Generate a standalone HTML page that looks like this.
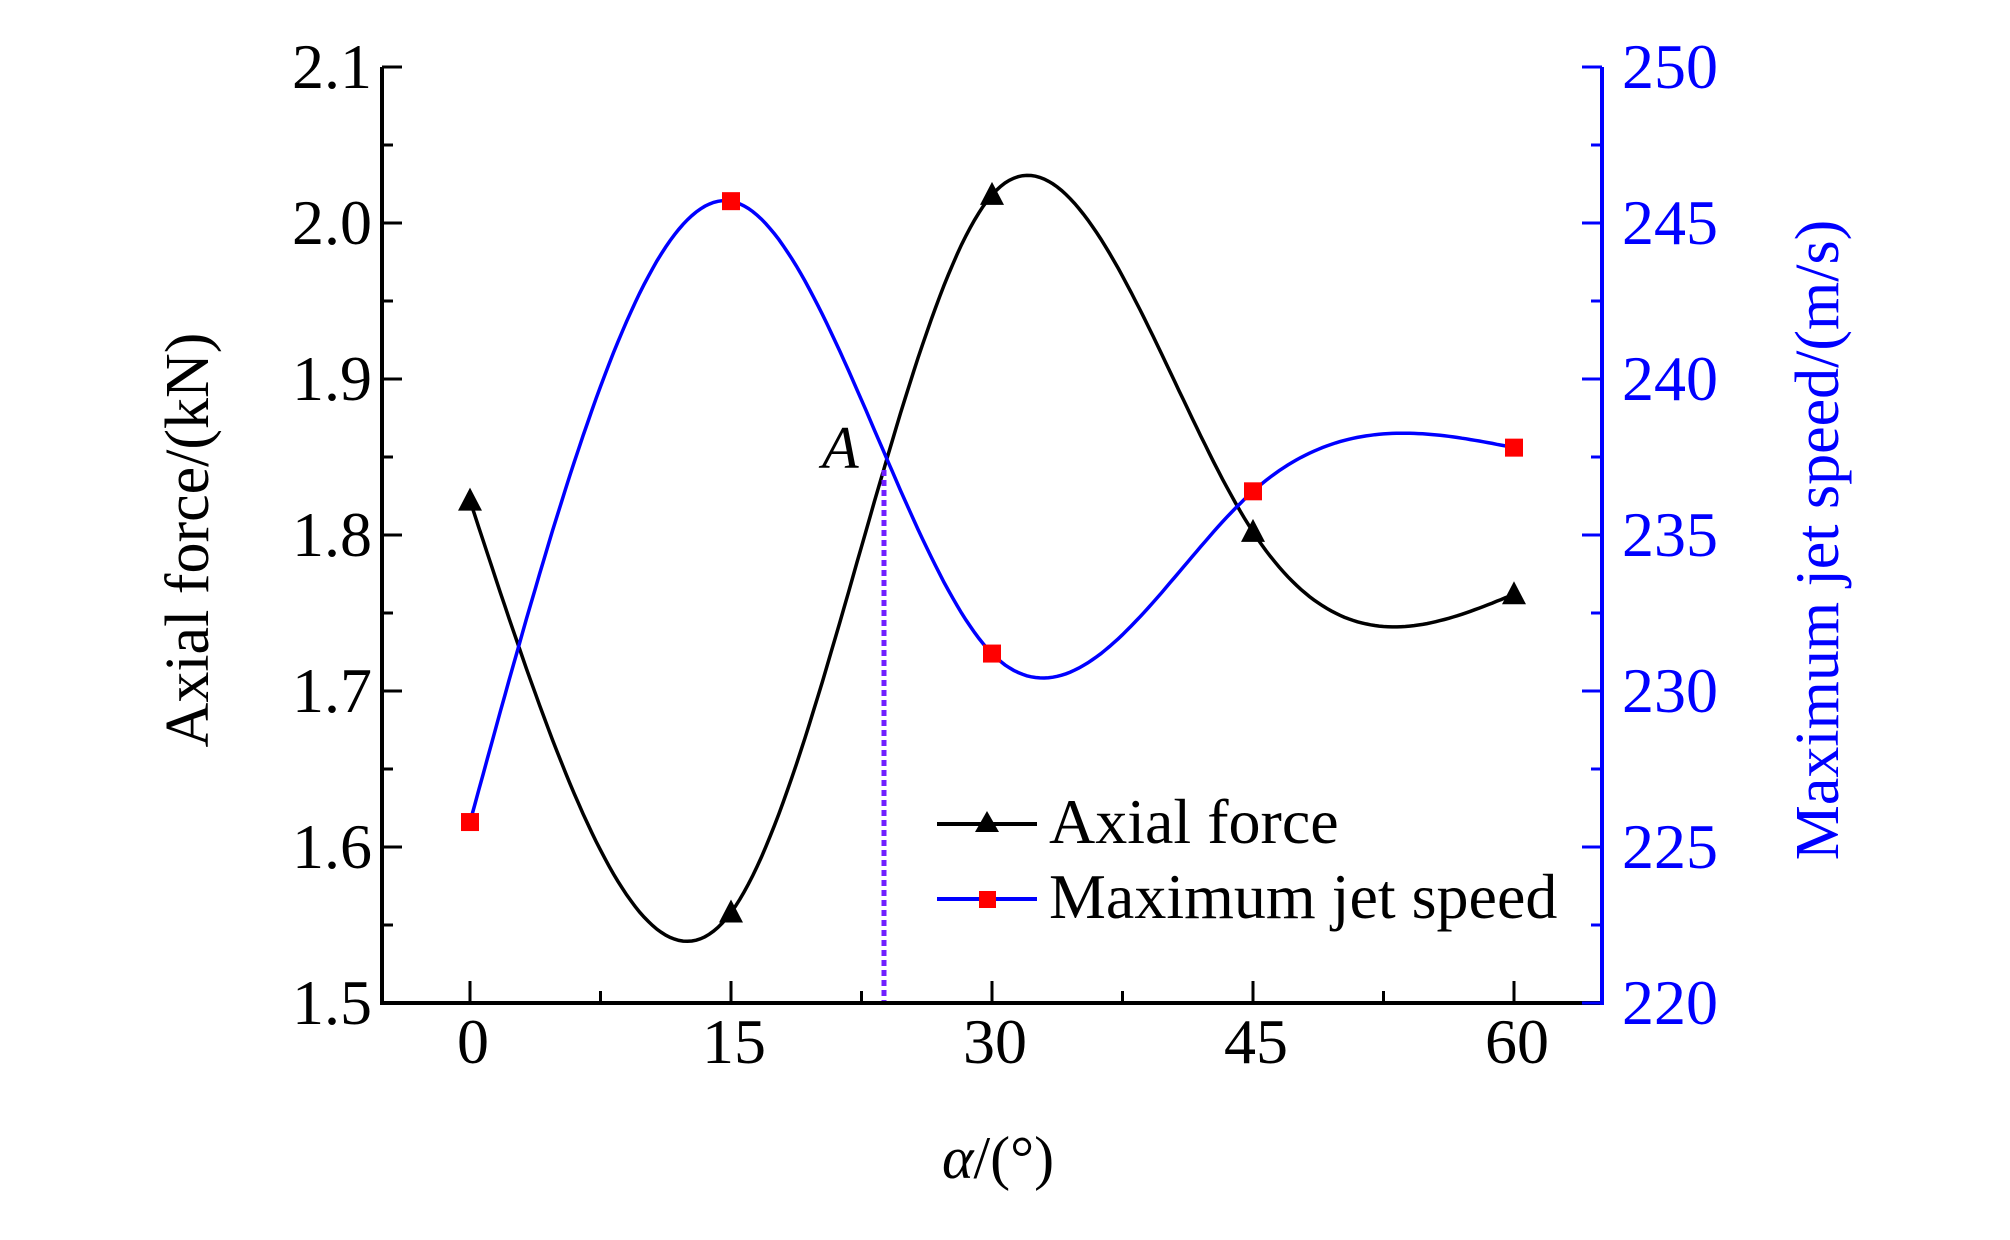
<!DOCTYPE html>
<html><head><meta charset="utf-8"><style>
html,body{margin:0;padding:0;background:#fff;}
svg, svg text{font-family:"Liberation Serif","Noto Serif CJK SC","DejaVu Serif",serif;}
</style></head><body>
<svg id="chart" width="2010" height="1235" viewBox="0 0 2010 1235">
<g id="axes"></g><g id="series"></g>
<text x="822" y="468" font-size="60" font-style="italic">A</text>
<line x1="884" y1="470" x2="884" y2="1001" stroke="#7020ff" stroke-width="5" stroke-dasharray="6,4"/>
<g>
  <line x1="937" y1="824" x2="1037" y2="824" stroke="#000" stroke-width="4"/>
  <polygon points="987,811 999,832 975,832" fill="#000"/>
  <text x="1049" y="843" font-size="64">Axial force</text>
  <line x1="937" y1="899" x2="1037" y2="899" stroke="#0000ff" stroke-width="4"/>
  <rect x="979" y="891" width="17" height="17" fill="#ff0000"/>
  <text x="1049" y="918" font-size="64">Maximum jet speed</text>
</g>
<text transform="translate(208,540) rotate(-90)" text-anchor="middle" font-size="62">Axial force/(kN)</text>
<text transform="translate(1838,540) rotate(-90)" text-anchor="middle" font-size="62" fill="#0000ff">Maximum jet speed/(m/s)</text>
<text x="998" y="1178" text-anchor="middle" font-size="60"><tspan font-style="italic">α</tspan>/(°)</text>
</svg>
<script>
const xCats=[0,15,30,45,60];
const axialForce=[1.822,1.558,2.018,1.802,1.762];
const jetSpeed=[225.8,245.7,231.2,236.4,237.8];
const xTicks=[0,15,30,45,60];
const leftTicks=["1.5","1.6","1.7","1.8","1.9","2.0","2.1"];
const rightTicks=["220","225","230","235","240","245","250"];

const NS="http://www.w3.org/2000/svg";
const L=382,R=1602,T=67,B=1003;
const X=v=>470+(v-0)*(1514-470)/60;
const YL=v=>B-(v-1.5)*(B-T)/0.6;
const YR=v=>B-(v-220)*(B-T)/30;
const axes=document.getElementById('axes'), ser=document.getElementById('series');
function mk(tag,at,parent){const e=document.createElementNS(NS,tag);for(const k in at)e.setAttribute(k,at[k]);parent.appendChild(e);return e;}

let e;
e=mk('line',{x1:L,y1:T,x2:L,y2:B,stroke:'#000','stroke-width':4},axes);


e=mk('line',{x1:L-2,y1:B,x2:R,y2:B,stroke:'#000','stroke-width':4},axes);


e=mk('line',{x1:R,y1:T,x2:R,y2:B+2,stroke:'#0000ff','stroke-width':4},axes);



for(let i=0;i<leftTicks.length;i++){
  const v=parseFloat(leftTicks[i]);const y=YL(v);
  e=mk('line',{x1:L,y1:y,x2:L+20,y2:y,stroke:'#000','stroke-width':3},axes);
  
  
  e=mk('text',{x:L-10,y:y+21,'text-anchor':'end','font-size':64},axes);e.textContent=leftTicks[i];
  
  
  if(i<leftTicks.length-1){const ym=YL(v+0.05);
    e=mk('line',{x1:L,y1:ym,x2:L+11,y2:ym,stroke:'#000','stroke-width':3},axes);
    
    }
}
for(let i=0;i<rightTicks.length;i++){
  const v=parseFloat(rightTicks[i]);const y=YR(v);
  e=mk('line',{x1:R,y1:y,x2:R-20,y2:y,stroke:'#0000ff','stroke-width':3},axes);
  
  
  e=mk('text',{x:R+20,y:y+21,'font-size':64,fill:'#0000ff'},axes);e.textContent=rightTicks[i];
  
  
  if(i<rightTicks.length-1){const ym=YR(v+2.5);
    e=mk('line',{x1:R,y1:ym,x2:R-11,y2:ym,stroke:'#0000ff','stroke-width':3},axes);
    
    }
}
for(let i=0;i<xTicks.length;i++){
  const x=X(xTicks[i]);
  e=mk('line',{x1:x,y1:B,x2:x,y2:B-22,stroke:'#000','stroke-width':3},axes);
  
  
  e=mk('text',{x:x+3,y:B+60,'text-anchor':'middle','font-size':64},axes);e.textContent=xTicks[i];
  
  
  if(i<xTicks.length-1){const xm=X(xTicks[i]+7.5);
    e=mk('line',{x1:xm,y1:B,x2:xm,y2:B-12,stroke:'#000','stroke-width':3},axes);
    
    }
}

function spline(xs,ys){
  const n=xs.length,h=[],a=[],l=[1],mu=[0],z=[0],c=new Array(n).fill(0),b=[],d=[];
  for(let i=0;i<n-1;i++)h[i]=xs[i+1]-xs[i];
  for(let i=1;i<n-1;i++)a[i]=3/h[i]*(ys[i+1]-ys[i])-3/h[i-1]*(ys[i]-ys[i-1]);
  for(let i=1;i<n-1;i++){l[i]=2*(xs[i+1]-xs[i-1])-h[i-1]*mu[i-1];mu[i]=h[i]/l[i];z[i]=(a[i]-h[i-1]*z[i-1])/l[i];}
  for(let j=n-2;j>=0;j--){c[j]=z[j]-mu[j]*c[j+1];b[j]=(ys[j+1]-ys[j])/h[j]-h[j]*(c[j+1]+2*c[j])/3;d[j]=(c[j+1]-c[j])/(3*h[j]);}
  return t=>{let j=xs.findIndex((v,k)=>k<n-1&&t<=xs[k+1]);if(j<0)j=n-2;const dx=t-xs[j];return ys[j]+b[j]*dx+c[j]*dx*dx+d[j]*dx*dx*dx;};
}
function curve(ys,Y,color,name){
  const f=spline(xCats,ys);let p='';
  for(let t=xCats[0];t<=xCats[xCats.length-1]+1e-9;t+=0.25){p+=(p?'L':'M')+X(t).toFixed(1)+','+Y(f(t)).toFixed(1);}
  const e=mk('path',{d:p,fill:'none',stroke:color,'stroke-width':3.5},ser);
  
  
}
curve(axialForce,YL,'#000','axial-force-line');
curve(jetSpeed,YR,'#0000ff','jet-speed-line');
for(let i=0;i<xCats.length;i++){
  const x=X(xCats[i]),y=YL(axialForce[i]);
  let m=mk('polygon',{points:`${x},${y-13} ${x+12},${y+10} ${x-12},${y+10}`,fill:'#000'},ser);
  
  
  const y2=YR(jetSpeed[i]);
  m=mk('rect',{x:x-9,y:y2-9,width:18,height:18,fill:'#ff0000'},ser);
  
  
}
</script>
</body></html>
